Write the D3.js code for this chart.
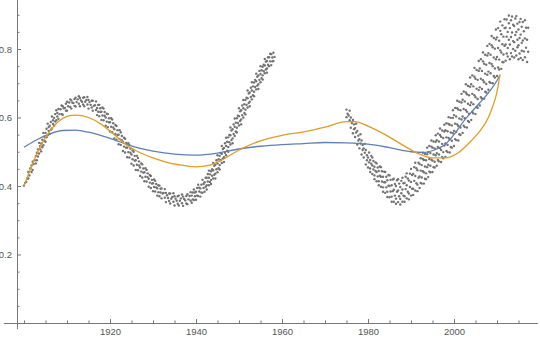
<!DOCTYPE html>
<html>
<head>
<meta charset="utf-8">
<script src="https://cdn.jsdelivr.net/npm/d3@7"></script>
<style>
  body { margin: 0; background: #fff; }
  svg { display: block; }
  .tick text { font-family: "Liberation Sans", Arial, sans-serif; font-size: 9.5px; fill: #555; }
  .tick line { stroke: #777; }
</style>
</head>
<body>
<svg id="chart" width="540" height="339"></svg>
<script>
/* axis ticks */
const xMajorTicks = [1920, 1940, 1960, 1980, 2000]
const xMinorTicks = [1900, 1905, 1910, 1915, 1925, 1930, 1935, 1945, 1950, 1955, 1965, 1970, 1975, 1985, 1990, 1995, 2005, 2010, 2015]
const yMajorTicks = [0.2, 0.4, 0.6, 0.8]
const yMinorTicks = [0.05, 0.1, 0.15, 0.25, 0.3, 0.35, 0.45, 0.5, 0.55, 0.65, 0.7, 0.75, 0.85, 0.9]

/* smooth fits: [year, value] */
const blueFit = [[1900,.513],[1903,.535],[1906,.552],[1909,.562],[1912,.563],[1915,.557],[1918,.547],[1921,.535],
  [1924,.521],[1927,.51],[1930,.502],[1935,.493],[1940,.49],[1945,.496],[1950,.508],[1955,.516],[1960,.521],
  [1965,.524],[1970,.527],[1975,.526],[1980,.522],[1985,.512],[1990,.50],[1993,.498],[1996,.508],[1998,.522],
  [2000,.55],[2002,.585],[2004,.615],[2006,.643],[2008,.672],[2010,.708],[2010.7,.725]]
const orangeFit = [[1900,.40],[1902,.465],[1904,.52],[1906,.56],[1908,.588],[1910,.603],[1912,.607],[1915,.60],
  [1918,.58],[1921,.55],[1924,.518],[1927,.497],[1930,.482],[1933,.47],[1936,.462],[1940,.456],[1943,.46],
  [1946,.476],[1950,.505],[1955,.532],[1960,.548],[1965,.558],[1970,.572],[1975,.588],[1977,.588],[1980,.575],
  [1984,.55],[1988,.52],[1992,.493],[1995,.482],[1998,.482],[2001,.497],[2004,.532],[2006,.56],[2008,.60],
  [2009,.632],[2010,.675],[2010.7,.725]]

/* scatter: each row is a year followed by the values seen at it */
const earlyCloud = [
[1900,.401],[1900.25,.409],[1900.5,.412],[1900.75,.422],[1901,.422,.441],[1901.25,.431],[1901.5,.452],[1901.75,.441,.460],
[1902,.447,.471],[1902.25,.464],[1902.5,.475],[1902.75,.466,.488],[1903,.475,.497],[1903.25,.486,.507],
[1903.5,.495,.526],[1903.75,.507,.517],[1904,.501,.524],[1904.25,.513,.535],[1904.5,.519,.555],[1904.75,.532,.544],
[1905,.529,.555],[1905.25,.542,.567],[1905.5,.548,.582],[1905.75,.561,.572],[1906,.552,.576],[1906.25,.564,.587],
[1906.5,.568,.603],[1906.75,.581,.592],[1907,.576,.599],[1907.25,.588,.610],[1907.5,.592,.621],[1907.75,.603,.613],
[1908,.596,.625],[1908.25,.610],[1908.5,.624],[1908.75,.610,.635],[1909,.608,.633],[1909.25,.627],
[1909.5,.628],[1909.75,.620,.640],[1910,.620,.646],[1910.25,.633],[1910.5,.644],[1910.75,.631,.653],
[1911,.626,.650],[1911.25,.643],[1911.5,.642],[1911.75,.634,.654],[1912,.632,.658],[1912.25,.645],
[1912.5,.653],[1912.75,.640,.662],[1913,.633,.657],[1913.25,.650],[1913.5,.646],[1913.75,.638,.658],
[1914,.633,.659],[1914.25,.646],[1914.5,.651],[1914.75,.638,.660],[1915,.626,.651],[1915.25,.645],
[1915.5,.637],[1915.75,.629,.649],[1916,.620,.649],[1916.25,.634],[1916.5,.636],[1916.75,.622,.647],
[1917,.607,.628],[1917.25,.617,.637],[1917.5,.604,.637],[1917.75,.616,.627],[1918,.593,.617],[1918.25,.606,.629],
[1918.5,.592,.626],[1918.75,.605,.616],[1919,.576,.600],[1919.25,.588,.611],[1919.5,.572,.610],[1919.75,.586,.598],
[1920,.559,.586],[1920.25,.573,.598],[1920.5,.557,.594],[1920.75,.571,.583],[1921,.539,.566],[1921.25,.552,.578],
[1921.5,.535,.575],[1921.75,.549,.563],[1922,.522,.550],[1922.25,.537,.563],[1922.5,.520,.557],[1922.75,.534,.546],
[1923,.502,.529],[1923.25,.515,.541],[1923.5,.498,.538],[1923.75,.512,.526],[1924,.484,.512],[1924.25,.499,.525],
[1924.5,.483,.520],[1924.75,.497,.509],[1925,.465,.492],[1925.25,.478,.504],[1925.5,.460,.500],[1925.75,.474,.488],
[1926,.447,.475],[1926.25,.462,.488],[1926.5,.446,.482],[1926.75,.460,.472],[1927,.429,.454],[1927.25,.442,.466],
[1927.5,.425,.463],[1927.75,.439,.451],[1928,.414,.440],[1928.25,.427,.452],[1928.5,.413,.447],[1928.75,.426,.437],
[1929,.398,.421],[1929.25,.410,.432],[1929.5,.394,.429],[1929.75,.407,.418],[1930,.385,.408],[1930.25,.397,.419],
[1930.5,.384,.415],[1930.75,.396,.406],[1931,.372,.393],[1931.25,.382,.402],[1931.5,.370,.401],[1931.75,.381,.392],
[1932,.364,.393],[1932.25,.378],[1932.5,.380],[1932.75,.366,.391],[1933,.353,.380],[1933.25,.373],
[1933.5,.365],[1933.75,.356,.378],[1934,.349,.378],[1934.25,.363],[1934.5,.368],[1934.75,.354,.379],
[1935,.343,.370],[1935.25,.363],[1935.5,.357],[1935.75,.348,.370],[1936,.343,.372],[1936.25,.357],
[1936.5,.364],[1936.75,.350,.375],[1937,.342,.369],[1937.25,.362],[1937.5,.358],[1937.75,.349,.371],
[1938,.347,.376],[1938.25,.361],[1938.5,.371],[1938.75,.357,.382],[1939,.351,.372],[1939.25,.361,.381],
[1939.5,.359,.390],[1939.75,.370,.381],[1940,.360,.383],[1940.25,.372,.394],[1940.5,.371,.404],[1940.75,.384,.395],
[1941,.369,.393],[1941.25,.381,.404],[1941.5,.380,.418],[1941.75,.394,.406],[1942,.383,.411],[1942.25,.398,.424],
[1942.5,.390,.402,.424],[1942.75,.413,.435],[1943,.402,.424,.445],[1943.25,.412,.434],
[1943.5,.406,.418,.443],[1943.75,.430,.449],[1944,.422,.446,.467],[1944.25,.433,.459],
[1944.5,.422,.436,.462],[1944.75,.449,.475],[1945,.440,.466,.490],[1945.25,.452,.478],
[1945.5,.448,.461,.488],[1945.75,.475,.496],[1946,.467,.494,.517],[1946.25,.480,.508],
[1946.5,.470,.484,.511],[1946.75,.497,.525],[1947,.490,.517,.541],[1947.25,.503,.529],
[1947.5,.500,.514,.542],[1947.75,.528,.549],[1948,.521,.548,.571],[1948.25,.534,.562],
[1948.5,.525,.539,.566],[1948.75,.552,.580],[1949,.546,.573,.597],[1949.25,.559,.585],
[1949.5,.556,.570,.598],[1949.75,.584,.605],[1950,.577,.604,.627],[1950.25,.590,.618],
[1950.5,.580,.594,.621],[1950.75,.607,.635],[1951,.600,.627,.651],[1951.25,.613,.639],
[1951.5,.609,.623,.651],[1951.75,.637,.658],[1952,.629,.656,.679],[1952.25,.642,.670],
[1952.5,.633,.646,.673],[1952.75,.660,.687],[1953,.653,.679,.703],[1953.25,.665,.691],
[1953.5,.662,.675,.702],[1953.75,.689,.710],[1954,.682,.706,.728],[1954.25,.693,.719],
[1954.5,.683,.697,.723],[1954.75,.710,.736],[1955,.703,.727,.750],[1955.25,.715,.738],
[1955.5,.711,.723,.748],[1955.75,.735,.754],[1956,.729,.752,.771],[1956.25,.740,.763],
[1956.5,.731,.743,.765],[1956.75,.754,.776],[1957,.750,.776],[1957.25,.764,.786],
[1957.5,.753,.785],[1957.75,.764,.775],[1958,.765,.789],[1958.25,.777]
]
const lateCloud = [
[1975,.601,.623],[1975.25,.611],[1975.5,.606],[1975.75,.592,.620],[1976,.570,.600],[1976.25,.584],
[1976.5,.554,.593],[1976.75,.566,.580],[1977,.543,.569],[1977.25,.556,.582],[1977.5,.521,.561],[1977.75,.533,.547],
[1978,.510,.537],[1978.25,.524,.551],[1978.5,.492,.533],[1978.75,.505,.520],[1979,.483,.510],[1979.25,.497,.523],
[1979.5,.463,.505],[1979.75,.475,.490],[1980,.454,.483],[1980.25,.469,.498],
[1980.5,.441,.451,.476],[1980.75,.465,.488],[1981,.435,.460,.483],[1981.25,.448,.473],
[1981.5,.420,.431,.456],[1981.75,.444,.469],[1982,.414,.441,.466],[1982.25,.428,.454],
[1982.5,.402,.414,.444],[1982.75,.430,.457],[1983,.398,.427,.455],[1983.25,.413,.443],
[1983.5,.383,.396,.427],[1983.75,.411,.442],[1984,.380,.411,.441],[1984.25,.396,.427],
[1984.5,.368,.383,.417],[1984.75,.401,.432],[1985,.367,.400,.431],[1985.25,.384,.418],
[1985.5,.354,.369,.402],[1985.75,.385,.419],[1986,.354,.389,.421],[1986.25,.372,.406],
[1986.5,.348,.363,.400],[1986.75,.383,.417],[1987,.353,.387,.420],[1987.25,.370,.407],
[1987.5,.346,.362,.397],[1987.75,.379,.415],[1988,.354,.390,.424],[1988.25,.372,.408],
[1988.5,.354,.370,.409],[1988.75,.391,.427],[1989,.364,.402,.437],[1989.25,.383,.422],
[1989.5,.361,.378,.416],[1989.75,.397,.436],[1990,.372,.412,.450],[1990.25,.392,.432],
[1990.5,.374,.392,.435],[1990.75,.415,.455],[1991,.387,.429,.468],[1991.25,.408,.452],
[1991.5,.385,.404,.446],[1991.75,.424,.468],
[1992,.394,.428,.464],[1992.25,.409,.445,.481],[1992.5,.407,.425,.461],[1992.75,.443,.479,.497],
[1993,.407,.440,.476],[1993.25,.421,.457,.494],[1993.5,.420,.437,.475],[1993.75,.455,.493,.512],
[1994,.426,.462,.499],[1994.25,.442,.479,.517],[1994.5,.440,.459,.496],[1994.75,.477,.515,.533],
[1995,.441,.474,.512],[1995.25,.455,.492,.530],[1995.5,.454,.471,.510],[1995.75,.490,.529,.548],
[1996,.459,.496,.534],[1996.25,.476,.514,.553],[1996.5,.472,.492,.530],[1996.75,.511,.549,.568],
[1997,.470,.505,.544],[1997.25,.485,.523,.562],[1997.5,.481,.499,.540],[1997.75,.518,.559,.579],
[1998,.485,.524,.563],[1998.25,.502,.542,.583],[1998.5,.499,.520,.560],[1998.75,.540,.581,.601],
[1999,.498,.536,.579],[1999.25,.514,.556,.599],[1999.5,.512,.532,.577],[1999.75,.554,.599,.621],
[2000,.517,.561,.607],[2000.25,.537,.582,.628],[2000.5,.534,.558,.603],[2000.75,.580,.627,.649],
[2001,.533,.575,.623],[2001.25,.551,.597,.646],[2001.5,.549,.571,.621],[2001.75,.594,.644,.669],
[2002,.555,.603,.652],[2002.25,.576,.625,.676],[2002.5,.572,.598,.647],[2002.75,.622,.673,.697],
[2003,.571,.617,.668],[2003.25,.590,.640,.692],[2003.5,.587,.611,.665],[2003.75,.636,.690,.717],
[2004,.593,.644,.697],[2004.25,.616,.669,.723],[2004.5,.612,.639,.691],[2004.75,.665,.719,.745],
[2005,.610,.659,.713],[2005.25,.631,.684,.739],[2005.5,.628,.654,.710],[2005.75,.680,.736,.765],
[2006,.635,.688,.743],[2006.25,.659,.713,.770],[2006.5,.655,.683,.736],[2006.75,.709,.764,.790],
[2007,.655,.703,.757],[2007.25,.675,.728,.783],[2007.5,.673,.698,.754],[2007.75,.725,.781,.809],
[2008,.681,.734,.788],[2008.25,.704,.759,.815],[2008.5,.701,.729,.783],[2008.75,.756,.811,.838],
[2009,.700,.750,.805],[2009.25,.721,.775,.832],[2009.5,.717,.743,.801],[2009.75,.770,.828,.857],
[2010,.721,.777,.834],[2010.25,.746,.803,.861],[2010.5,.740,.769,.824],[2010.75,.796,.853,.880],
[2011,.742,.790,.843],[2011.25,.762,.814,.869],[2011.5,.761,.784,.836],[2011.75,.809,.861,.887],
[2012,.766,.813,.862],[2012.25,.787,.836,.886],[2012.5,.778,.803,.850],[2012.75,.827,.875,.898],
[2013,.770,.813,.861],[2013.25,.788,.835,.884],[2013.5,.778,.848,.895],[2013.75,.800,.823,.871],
[2014,.775,.820,.867],[2014.25,.795,.841,.889],[2014.5,.781,.850,.896],[2014.75,.805,.827,.874],
[2015,.770,.811,.857],[2015.25,.787,.832,.879],[2015.5,.774,.842,.888],[2015.75,.795,.818,.865],
[2016,.768,.825,.879],[2016.25,.793,.852],[2016.5,.776,.831,.884],[2016.75,.804,.862],
[2017,.762,.827],[2017.25,.792,.862]
]

/* where the axes sit and how far they run */
const axisOriginYear = 1898.35
const xAxisExtent = [1895.3, 2019.5]
const yAxisExtent = [-0.018, 0.945]

const x = d3.scaleLinear().domain([1900, 2000]).range([24, 454])
const y = d3.scaleLinear().domain([0, 0.8]).range([323, 49])

const svg = d3.select('#chart')

/* points */
const toPoints = rows => rows.flatMap(r => r.slice(1).map(v => [r[0], v]))
svg.append('g')
  .selectAll('circle')
  .data(toPoints(earlyCloud).concat(toPoints(lateCloud)))
  .join('circle')
  .attr('cx', d => x(d[0]))
  .attr('cy', d => y(d[1]))
  .attr('r', 1.2)
  .attr('fill', '#727272')

/* fitted curves */
const line = d3.line()
  .x(d => x(d[0]))
  .y(d => y(d[1]))
  .curve(d3.curveMonotoneX)

svg.append('path').datum(blueFit)
  .attr('d', line).attr('fill', 'none')
  .attr('stroke', '#5E81B5').attr('stroke-width', 1.3)
svg.append('path').datum(orangeFit)
  .attr('d', line).attr('fill', 'none')
  .attr('stroke', '#E19C24').attr('stroke-width', 1.3)

/* axes */
const ox = Math.round(x(axisOriginYear))
const oy = Math.round(y(0))

svg.append('line')
  .attr('x1', x(xAxisExtent[0])).attr('x2', x(xAxisExtent[1]))
  .attr('y1', oy + 0.5).attr('y2', oy + 0.5)
  .attr('stroke', '#777')
svg.append('line')
  .attr('x1', ox + 0.5).attr('x2', ox + 0.5)
  .attr('y1', y(yAxisExtent[0])).attr('y2', y(yAxisExtent[1]))
  .attr('stroke', '#777')

const dropDomain = g => g.select('.domain').remove()

svg.append('g')
  .attr('transform', `translate(0,${oy})`)
  .call(d3.axisBottom(x).tickValues(xMinorTicks).tickSize(-2.5).tickFormat(''))
  .call(dropDomain)
svg.append('g')
  .attr('transform', `translate(0,${oy})`)
  .call(d3.axisBottom(x).tickValues(xMajorTicks).tickSizeInner(-4).tickSizeOuter(0)
    .tickPadding(5.5).tickFormat(d3.format('d')))
  .call(dropDomain)

svg.append('g')
  .attr('transform', `translate(${ox},0)`)
  .call(d3.axisLeft(y).tickValues(yMinorTicks).tickSize(-2.5).tickFormat(''))
  .call(dropDomain)
svg.append('g')
  .attr('transform', `translate(${ox},0)`)
  .call(d3.axisLeft(y).tickValues(yMajorTicks).tickSizeInner(-4).tickSizeOuter(0)
    .tickPadding(5).tickFormat(d3.format('.1f')))
  .call(dropDomain)
</script>
</body>
</html>
